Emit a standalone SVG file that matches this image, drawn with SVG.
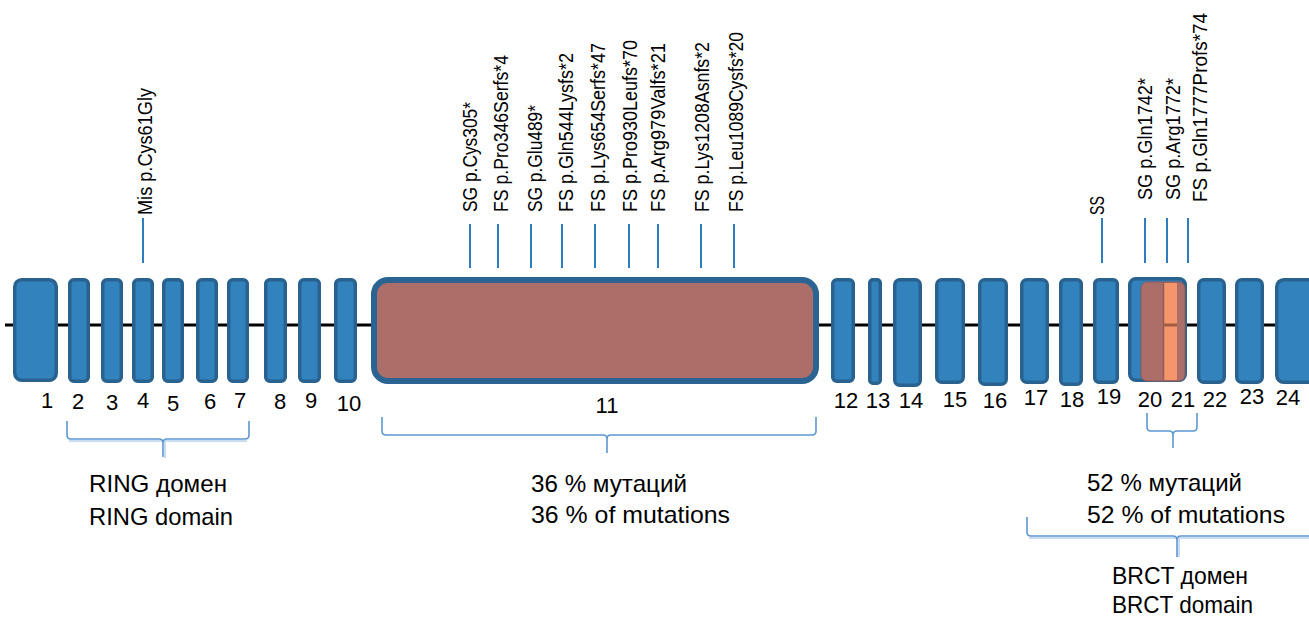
<svg xmlns="http://www.w3.org/2000/svg" width="1309" height="619" viewBox="0 0 1309 619">
  <style>
    text { font-family: "Liberation Sans", Arial, sans-serif; fill: #000; }
    .exon { fill: #3282be; stroke: #29618f; stroke-width: 3.5; }
    .num { font-size: 22px; text-anchor: middle; }
    .mut { font-size: 19.5px; }
    .cap { font-size: 24px; }
    .tick { stroke: #2e7dbf; stroke-width: 2; fill: none; }
    .brace { stroke: #5d97d3; stroke-width: 1.6; fill: none; }
    .brace-shadow { stroke: #c9dcf0; stroke-width: 2; fill: none; }
  </style>

  <rect width="1309" height="619" fill="#ffffff"/>

  <!-- gene backbone -->
  <g id="connectors">
    <line x1="5" y1="325" x2="1309" y2="325" stroke="#000" stroke-width="3"/>
    <!-- mutation ticks -->
    <line class="tick" x1="143" y1="218" x2="143" y2="263"/>
    <line class="tick" x1="470" y1="224" x2="470" y2="268"/>
    <line class="tick" x1="498" y1="224" x2="498" y2="268"/>
    <line class="tick" x1="531" y1="224" x2="531" y2="268"/>
    <line class="tick" x1="562" y1="224" x2="562" y2="268"/>
    <line class="tick" x1="595" y1="224" x2="595" y2="268"/>
    <line class="tick" x1="629" y1="224" x2="629" y2="268"/>
    <line class="tick" x1="658" y1="224" x2="658" y2="268"/>
    <line class="tick" x1="701" y1="224" x2="701" y2="268"/>
    <line class="tick" x1="734" y1="224" x2="734" y2="268"/>
    <line class="tick" x1="1102" y1="218" x2="1102" y2="263"/>
    <line class="tick" x1="1145" y1="218" x2="1145" y2="263"/>
    <line class="tick" x1="1167" y1="218" x2="1167" y2="263"/>
    <line class="tick" x1="1188" y1="218" x2="1188" y2="263"/>
  </g>

  <!-- exons -->
  <g id="exon1"><rect class="exon" x="14.75" y="279.75" width="41.5" height="100.5" rx="7"/><text class="num" x="47" y="408">1</text></g>
  <g id="exon2"><rect class="exon" x="69.75" y="279.75" width="18.5" height="101.5" rx="4"/><text class="num" x="78" y="409">2</text></g>
  <g id="exon3"><rect class="exon" x="102.75" y="279.75" width="18.5" height="101.5" rx="4"/><text class="num" x="112" y="410">3</text></g>
  <g id="exon4"><rect class="exon" x="133.75" y="279.75" width="18.5" height="101.5" rx="4"/><text class="num" x="143" y="408">4</text></g>
  <g id="exon5"><rect class="exon" x="163.75" y="279.75" width="18.5" height="101.5" rx="4"/><text class="num" x="173" y="411">5</text></g>
  <g id="exon6"><rect class="exon" x="197.75" y="279.75" width="18.5" height="101.5" rx="4"/><text class="num" x="210" y="409">6</text></g>
  <g id="exon7"><rect class="exon" x="228.75" y="279.75" width="18.5" height="101.5" rx="4"/><text class="num" x="240" y="408">7</text></g>
  <g id="exon8"><rect class="exon" x="265.75" y="279.75" width="19.5" height="101.5" rx="4"/><text class="num" x="280" y="409">8</text></g>
  <g id="exon9"><rect class="exon" x="299.75" y="279.75" width="19.5" height="101.5" rx="4"/><text class="num" x="311" y="408">9</text></g>
  <g id="exon10"><rect class="exon" x="335.75" y="279.75" width="19.5" height="101.5" rx="4"/><text class="num" x="349" y="411">10</text></g>
  <g id="exon11">
    <rect x="374" y="280" width="442" height="101" rx="14" fill="#ab6e69" stroke="#2b6492" stroke-width="6"/>
    <text class="num" x="607" y="413">11</text>
  </g>
  <g id="exon12"><rect class="exon" x="832.75" y="279.75" width="20.5" height="101.5" rx="4"/><text class="num" x="846" y="408">12</text></g>
  <g id="exon13"><rect class="exon" x="869.75" y="279.75" width="10.5" height="103.5" rx="3"/><text class="num" x="878" y="408">13</text></g>
  <g id="exon14"><rect class="exon" x="894.75" y="279.75" width="25.5" height="105.5" rx="5"/><text class="num" x="911" y="408">14</text></g>
  <g id="exon15"><rect class="exon" x="936.75" y="279.75" width="26.5" height="102.5" rx="5"/><text class="num" x="955" y="407">15</text></g>
  <g id="exon16"><rect class="exon" x="979.75" y="279.75" width="26.5" height="104.5" rx="5"/><text class="num" x="995" y="408">16</text></g>
  <g id="exon17"><rect class="exon" x="1021.75" y="279.75" width="25.5" height="102.5" rx="5"/><text class="num" x="1036" y="405">17</text></g>
  <g id="exon18"><rect class="exon" x="1060.75" y="279.75" width="20.5" height="104.5" rx="4"/><text class="num" x="1072" y="407">18</text></g>
  <g id="exon19"><rect class="exon" x="1094.75" y="279.75" width="22.5" height="102.5" rx="4"/><text class="num" x="1109" y="404">19</text></g>
  <g id="exon20-21">
    <rect class="exon" x="1129.75" y="278.75" width="55.5" height="101.5" rx="6"/>
    <rect x="1141" y="282" width="44" height="99" rx="6" fill="#ab6e69" stroke="#8f5856" stroke-width="1"/>
    <rect x="1164" y="283" width="13" height="97" fill="#f5956c"/>
    <line x1="1163.5" y1="283" x2="1163.5" y2="380" stroke="#955b57" stroke-width="1.5"/>
    <line x1="1164" y1="325" x2="1177" y2="325" stroke="#a05c42" stroke-width="3"/>
    <text class="num" x="1150" y="407">20</text>
    <text class="num" x="1183" y="407">21</text>
  </g>
  <g id="exon22"><rect class="exon" x="1198.75" y="279.75" width="25.5" height="102.5" rx="5"/><text class="num" x="1215" y="407">22</text></g>
  <g id="exon23"><rect class="exon" x="1236.75" y="279.75" width="25.5" height="102.5" rx="5"/><text class="num" x="1252" y="404">23</text></g>
  <g id="exon24"><rect class="exon" x="1276.75" y="279.75" width="60" height="102.5" rx="7"/><text class="num" x="1288" y="405">24</text></g>

  <!-- mutation labels -->
  <g id="mutations" class="mut">
    <text transform="translate(152,215) rotate(-90)" textLength="127" lengthAdjust="spacingAndGlyphs">Mis p.Cys61Gly</text>
    <text transform="translate(477,212) rotate(-90)" textLength="110" lengthAdjust="spacingAndGlyphs">SG p.Cys305*</text>
    <text transform="translate(508,212) rotate(-90)" textLength="157" lengthAdjust="spacingAndGlyphs">FS p.Pro346Serfs*4</text>
    <text transform="translate(541.5,212) rotate(-90)" textLength="107" lengthAdjust="spacingAndGlyphs">SG p.Glu489*</text>
    <text transform="translate(573,212) rotate(-90)" textLength="159" lengthAdjust="spacingAndGlyphs">FS p.Gln544Lysfs*2</text>
    <text transform="translate(605,212) rotate(-90)" textLength="169" lengthAdjust="spacingAndGlyphs">FS p.Lys654Serfs*47</text>
    <text transform="translate(637,212) rotate(-90)" textLength="172" lengthAdjust="spacingAndGlyphs">FS p.Pro930Leufs*70</text>
    <text transform="translate(665,212) rotate(-90)" textLength="169" lengthAdjust="spacingAndGlyphs">FS p.Arg979Valfs*21</text>
    <text transform="translate(709,212) rotate(-90)" textLength="170" lengthAdjust="spacingAndGlyphs">FS p.Lys1208Asnfs*2</text>
    <text transform="translate(743,212) rotate(-90)" textLength="180" lengthAdjust="spacingAndGlyphs">FS p.Leu1089Cysfs*20</text>
    <text transform="translate(1104,215) rotate(-90)" textLength="19" lengthAdjust="spacingAndGlyphs">SS</text>
    <text transform="translate(1151.5,200) rotate(-90)" textLength="122" lengthAdjust="spacingAndGlyphs">SG p.Gln1742*</text>
    <text transform="translate(1180,200) rotate(-90)" textLength="122" lengthAdjust="spacingAndGlyphs">SG p.Arg1772*</text>
    <text transform="translate(1206.5,202) rotate(-90)" textLength="189" lengthAdjust="spacingAndGlyphs">FS p.Gln1777Profs*74</text>
  </g>

  <!-- domain and hotspot braces -->
  <g id="braces">
    <path class="brace-shadow" d="M69 441 L247 441 M165 441 L165 458"/>
    <path class="brace" d="M67 421 L67 435 Q67 439 71 439 L159 439 Q163 439 163 443 L163 457 M163 443 Q163 439 167 439 L245 439 Q249 439 249 435 L249 421"/>
    <path class="brace" d="M382 417 L382 431 Q382 435 386 435 L603 435 Q607 435 607 439 L607 453 M607 439 Q607 435 611 435 L812 435 Q816 435 816 431 L816 417"/>
    <path class="brace" d="M1147 413 L1147 427 Q1147 431 1151 431 L1169 431 Q1173 431 1173 435 L1173 448 M1173 435 Q1173 431 1177 431 L1193 431 Q1197 431 1197 427 L1197 413"/>
    <path class="brace-shadow" d="M1029 538 L1309 538 M1179 538 L1179 557"/>
    <path class="brace" d="M1027 517 L1027 532 Q1027 536 1031 536 L1173 536 Q1177 536 1177 540 L1177 557 M1177 540 Q1177 536 1181 536 L1309 536"/>
  </g>

  <!-- captions -->
  <g id="ring-label" class="cap">
    <text x="89" y="492" textLength="138" lengthAdjust="spacingAndGlyphs">RING домен</text>
    <text x="89" y="525" textLength="144" lengthAdjust="spacingAndGlyphs">RING domain</text>
  </g>
  <g id="exon11-label" class="cap">
    <text x="531" y="492" textLength="156" lengthAdjust="spacingAndGlyphs">36 % мутаций</text>
    <text x="531" y="523" textLength="199" lengthAdjust="spacingAndGlyphs">36 % of mutations</text>
  </g>
  <g id="exon20-21-label" class="cap">
    <text x="1087" y="491" textLength="155" lengthAdjust="spacingAndGlyphs">52 % мутаций</text>
    <text x="1087" y="523" textLength="198" lengthAdjust="spacingAndGlyphs">52 % of mutations</text>
  </g>
  <g id="brct-label" class="cap">
    <text x="1112" y="584" textLength="136" lengthAdjust="spacingAndGlyphs">BRCT домен</text>
    <text x="1112" y="613" textLength="141" lengthAdjust="spacingAndGlyphs">BRCT domain</text>
  </g>
</svg>
